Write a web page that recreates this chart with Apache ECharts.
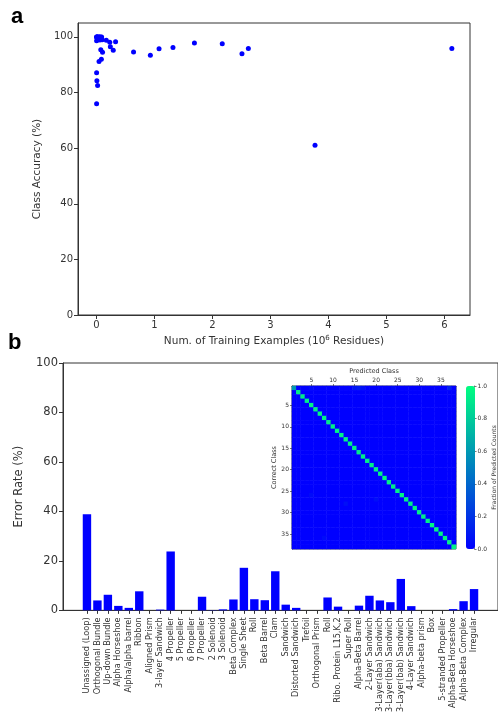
<!DOCTYPE html>
<html>
<head>
<meta charset="utf-8">
<script src="https://cdn.jsdelivr.net/npm/echarts@6/dist/echarts.min.js"></script>
<style>html,body{margin:0;padding:0;background:#fff}#c{width:498px;height:715px}</style>
</head>
<body>
<div id="c"></div>
<script>
// ---- Panel a: training examples (10^6 residues) vs class accuracy (%) ----
const trainExamples = [0.002,0.005,0.01,0.015,0.02,0.03,0.04,0.05,0.06,0.07,0.08,0.09,0.10,0.003,0.06,
  0.003,0.003,0.008,0.02,0.045,0.085,0.075,0.105,0.17,0.23,0.24,0.29,0.33,0.64,0.93,1.08,1.32,1.69,2.17,2.51,2.62,3.77,6.13];
const classAccuracy = [100,100,99.9,100,100,99.6,100,100,99.9,100,99.5,100,99.0,98.6,98.9,
  76.0,87.1,84.2,82.5,91.2,92.0,95.4,94.5,98.8,98.1,96.5,95.2,98.3,94.6,93.4,95.7,96.2,97.8,97.5,93.9,95.8,61.0,95.8];
const scatterXTicks = [0,1,2,3,4,5,6];
const scatterYTicks = [0,20,40,60,80,100];

// ---- Panel b: error rate per class ----
const categories = ["Unassigned (Loop)","Orthogonal Bundle","Up-down Bundle","Alpha Horseshoe","Alpha/alpha barrel",
  "Ribbon","Aligned Prism","3-layer Sandwich","4 Propeller","5 Propeller","6 Propeller","7 Propeller","2 Solenoid",
  "3 Solenoid","Beta Complex","Single Sheet","Roll","Beta Barrel","Clam","Sandwich","Distorted Sandwich","Trefoil",
  "Orthogonal Prism","Roll","Ribo. Protein L15,K,2","Super Roll","Alpha-Beta Barrel","2-Layer Sandwich",
  "3-Layer(aba) Sandwich","3-Layer(bba) Sandwich","3-Layer(bab) Sandwich","4-Layer Sandwich","Alpha-beta prism",
  "Box","5-stranded Propeller","Alpha-Beta Horseshoe","Alpha-Beta Complex","Irregular"];
const errorRate = [38.8,4.0,6.3,1.8,1.0,7.7,0,0.3,23.8,0,0,5.5,0.1,0.4,4.4,17.2,4.5,4.1,15.8,2.3,1.0,0,0,5.2,1.5,0,
  1.9,5.9,4.0,3.3,12.7,1.7,0,0,0,0.5,3.7,8.6];
const errorYTicks = [0,20,40,60,80,100];

// ---- Inset: confusion matrix (fraction of predicted counts) ----
const diagonalFraction = [0.6,0.93,0.92,0.94,0.95,0.93,0.96,0.94,0.92,0.95,0.96,0.94,0.95,0.94,0.93,0.92,0.94,0.95,0.93,
  0.94,0.95,0.96,0.95,0.93,0.95,0.96,0.94,0.93,0.94,0.94,0.92,0.95,0.96,0.96,0.96,0.95,0.94,0.95];
// [correct class, predicted class, fraction] for faint off-diagonal cells (all others read as 0)
const offDiagonal = [[1,15,0.08],[1,16,0.1],[1,17,0.06],[1,5,0.04],[1,37,0.12],[1,24,0.04],[28,13,0.06],[27,20,0.05],[26,5,0.04],[36,8,0.04]];
const matrixTicks = [5,10,15,20,25,30,35];
const colorbarTicks = [0,0.2,0.4,0.6,0.8,1.0];

const FONT = 'DejaVu Sans';
const TXT = '#333';
const LINE = '#333';

const n = categories.length;
const classIds = categories.map((_, i) => String(i + 1));
const lookup = {};
offDiagonal.forEach(([r, c, v]) => { lookup[r + '_' + c] = v; });
const heatData = [];
for (let r = 1; r <= n; r++) {
  for (let c = 1; c <= n; c++) {
    const v = r === c ? diagonalFraction[r - 1] : (lookup[r + '_' + c] || 0);
    heatData.push([c - 1, r - 1, v]);
  }
}

const chart = echarts.init(document.getElementById('c'), null, {renderer: 'canvas'});
const tickIdx = (i) => matrixTicks.includes(i + 1);

chart.setOption({
  animation: false,
  backgroundColor: '#fff',
  textStyle: {fontFamily: FONT},
  title: [
    {text: 'a', left: 6, top: 1, textStyle: {fontFamily: 'Liberation Sans', fontSize: 22, fontWeight: 'bold', color: '#000'}},
    {text: 'b', left: 3, top: 327, textStyle: {fontFamily: 'Liberation Sans', fontSize: 22, fontWeight: 'bold', color: '#000'}}
  ],
  grid: [
    {left: 78, top: 23, width: 392, height: 292, show: true, borderColor: LINE, borderWidth: 1, backgroundColor: 'transparent'},
    {left: 63, top: 363, width: 437, height: 250, show: true, borderColor: LINE, borderWidth: 1, backgroundColor: 'transparent'},
    {left: 292, top: 386, width: 164, height: 163, show: true, borderColor: '#222', borderWidth: 0.8, backgroundColor: 'transparent', z: 3},
    {left: 466, top: 386, width: 9, height: 163, show: false}
  ],
  xAxis: [
    {gridIndex: 0, type: 'value', min: -0.318, max: 6.443,
     axisLine: {show: true, onZero: false, lineStyle: {color: LINE}}, splitLine: {show: false},
     axisTick: {show: true, length: 4, customValues: scatterXTicks, lineStyle: {color: LINE}},
     axisLabel: {customValues: scatterXTicks, fontSize: 10, color: TXT, margin: 5, fontFamily: FONT},
     name: '{n|Num. of Training Examples (10}{s|6}{n| Residues)}', nameLocation: 'middle', nameGap: 20,
     nameTextStyle: {rich: {n: {fontSize: 10.5, color: TXT, fontFamily: FONT}, s: {fontSize: 7, color: TXT, fontFamily: FONT, verticalAlign: 'top', padding: [0, 0, 6, 0]}}}},
    {gridIndex: 1, type: 'value', min: -2.29, max: 39.29,
     axisLine: {show: true, onZero: false, lineStyle: {color: LINE}}, splitLine: {show: false},
     axisTick: {show: true, length: 3.5, customValues: categories.map((_, i) => i), lineStyle: {color: LINE}},
     axisLabel: {customValues: categories.map((_, i) => i), formatter: (v) => categories[Math.round(v)],
       rotate: 90, fontSize: 8.2, color: TXT, margin: 7, fontFamily: FONT}},
    {gridIndex: 2, type: 'category', data: classIds, position: 'top',
     axisLine: {show: true, onZero: false, lineStyle: {color: '#222', width: 0.8}},
     axisTick: {show: true, length: 2, interval: tickIdx, alignWithLabel: true, lineStyle: {color: '#222', width: 0.6}},
     axisLabel: {interval: tickIdx, fontSize: 6, color: TXT, margin: 3, fontFamily: FONT},
     splitLine: {show: false}, splitArea: {show: false},
     name: 'Predicted Class', nameLocation: 'middle', nameGap: 11, nameTextStyle: {fontSize: 6.5, color: TXT}},
    {gridIndex: 3, type: 'value', min: 0, max: 1, show: false}
  ],
  yAxis: [
    {gridIndex: 0, type: 'value', min: 0, max: 105,
     axisLine: {show: true, onZero: false, lineStyle: {color: LINE}}, splitLine: {show: false},
     axisTick: {show: true, length: 4, customValues: scatterYTicks, lineStyle: {color: LINE}},
     axisLabel: {customValues: scatterYTicks, fontSize: 10, color: TXT, margin: 5, fontFamily: FONT},
     name: 'Class Accuracy (%)', nameLocation: 'middle', nameGap: 28, nameTextStyle: {fontSize: 10.5, color: TXT}},
    {gridIndex: 1, type: 'value', min: 0, max: 100, interval: 20,
     axisLine: {show: true, onZero: false, lineStyle: {color: LINE}}, splitLine: {show: false},
     axisTick: {show: true, length: 4, lineStyle: {color: LINE}},
     axisLabel: {fontSize: 11.5, color: TXT, margin: 5, fontFamily: FONT, customValues: errorYTicks},
     name: 'Error Rate (%)', nameLocation: 'middle', nameGap: 30, nameTextStyle: {fontSize: 11.5, color: TXT}},
    {gridIndex: 2, type: 'category', data: classIds, inverse: true,
     axisLine: {show: true, onZero: false, lineStyle: {color: '#222', width: 0.8}},
     axisTick: {show: true, length: 2, interval: tickIdx, alignWithLabel: true, lineStyle: {color: '#222', width: 0.6}},
     axisLabel: {interval: tickIdx, fontSize: 6, color: TXT, margin: 3, fontFamily: FONT},
     splitLine: {show: false}, splitArea: {show: false},
     name: 'Correct Class', nameLocation: 'middle', nameGap: 14, nameTextStyle: {fontSize: 6.5, color: TXT}},
    {gridIndex: 3, type: 'value', min: 0, max: 1, position: 'right',
     axisLine: {show: true, onZero: false, lineStyle: {color: '#222', width: 0.6}}, splitLine: {show: false},
     axisTick: {show: true, length: 2, customValues: colorbarTicks, lineStyle: {color: '#222', width: 0.6}},
     axisLabel: {customValues: colorbarTicks, formatter: (v) => v.toFixed(1), fontSize: 6, color: TXT, margin: 3, fontFamily: FONT},
     name: 'Fraction of Predicted Counts', nameLocation: 'middle', nameGap: 15, nameRotate: 90,
     nameTextStyle: {fontSize: 6, color: TXT}}
  ],
  visualMap: {
    type: 'continuous', min: 0, max: 1, seriesIndex: 2, calculable: false, show: true,
    orient: 'vertical', left: 466, top: 386, itemWidth: 9, itemHeight: 163, padding: 0,
    text: ['', ''], hoverLink: false, inRange: {color: ['#0000ff', '#00ff80']}, z: 3
  },
  series: [
    {type: 'scatter', xAxisIndex: 0, yAxisIndex: 0, symbolSize: 5,
     itemStyle: {color: '#0000ff', opacity: 1},
     data: trainExamples.map((x, i) => [x, classAccuracy[i]])},
    {type: 'bar', xAxisIndex: 1, yAxisIndex: 1, barWidth: 8.4,
     itemStyle: {color: '#0000ff'},
     data: errorRate.map((v, i) => [i, v])},
    {type: 'heatmap', xAxisIndex: 2, yAxisIndex: 2, data: heatData, z: 3, emphasis: {disabled: true}},
    {type: 'scatter', xAxisIndex: 3, yAxisIndex: 3, data: []}
  ]
});
</script>
</body>
</html>
